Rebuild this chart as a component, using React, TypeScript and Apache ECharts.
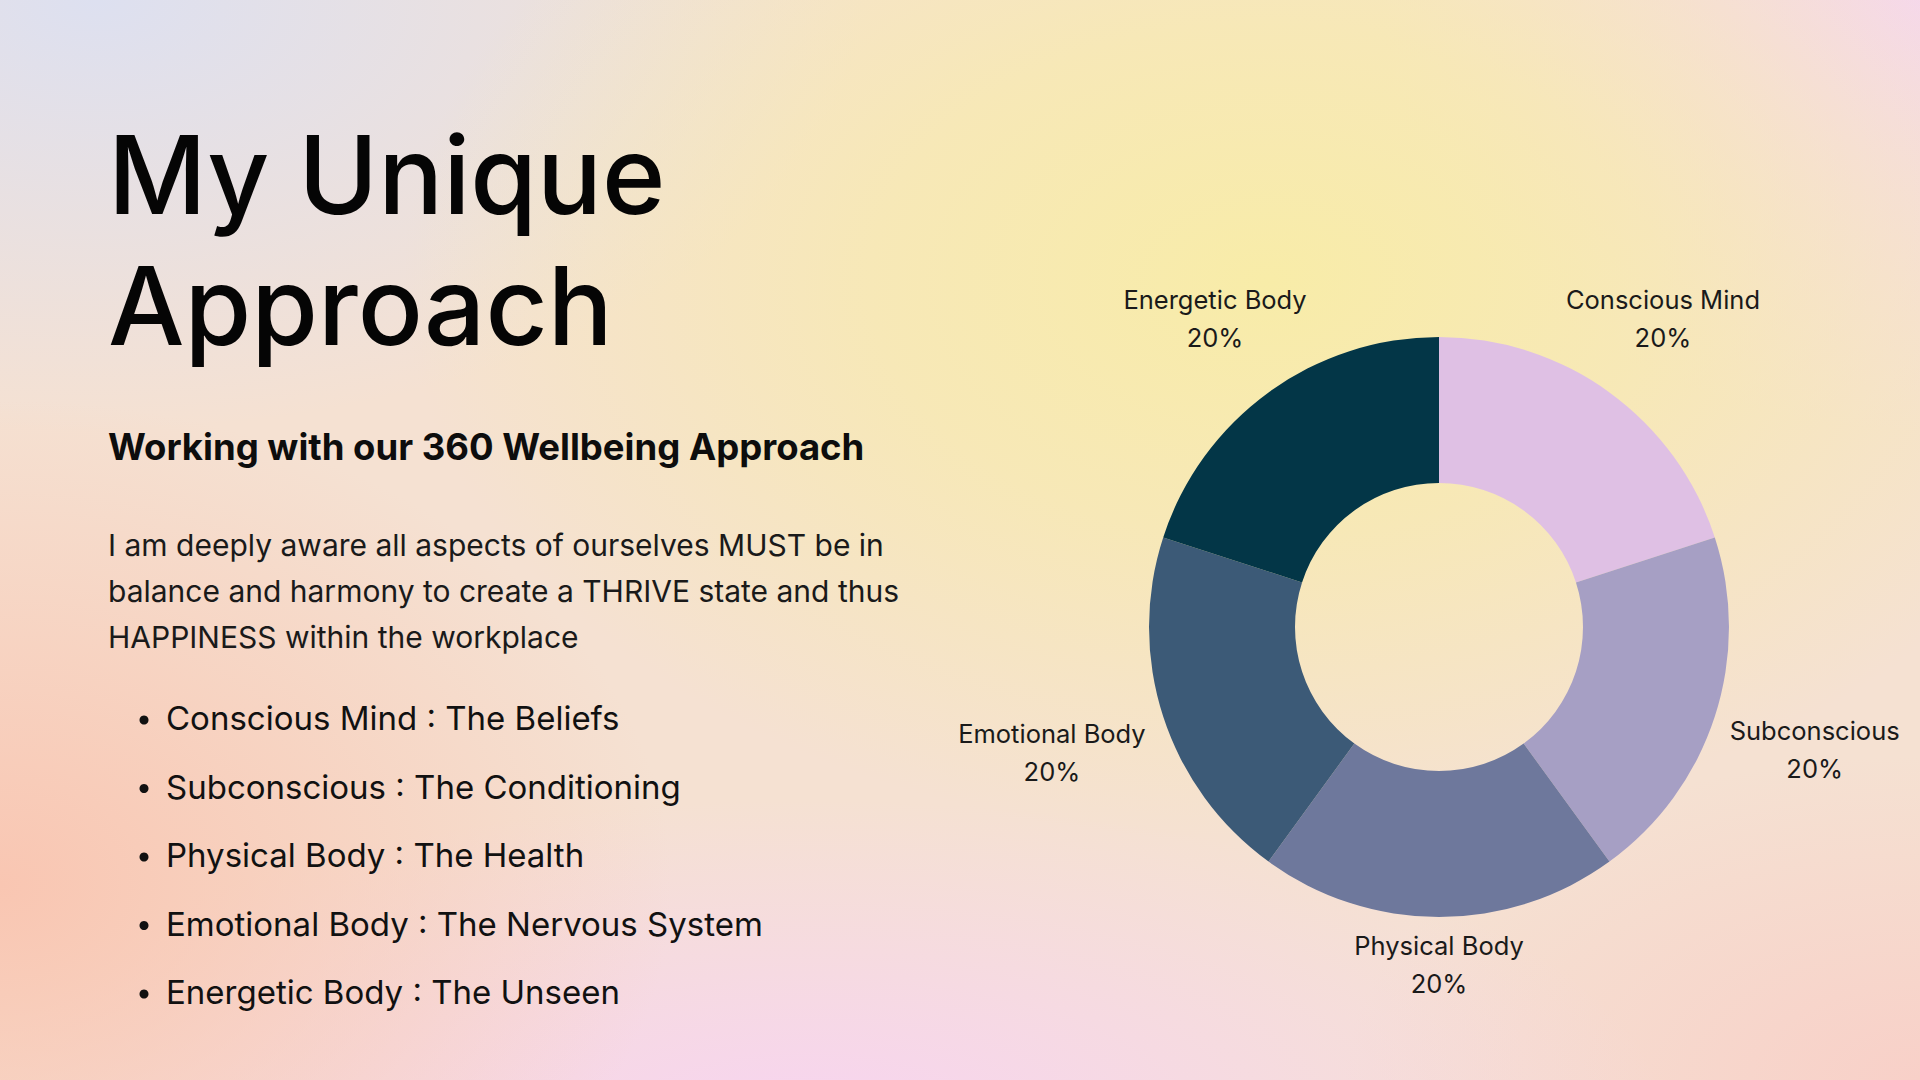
import React, { useEffect, useRef } from "react";
import * as echarts from "echarts";

const categories = ["Conscious Mind", "Subconscious", "Physical Body", "Emotional Body", "Energetic Body"];
const values = [20, 20, 20, 20, 20];
const sliceColors = ["#dfc0e4", "#a69fc4", "#6e789c", "#3c5a77", "#033647"];
// distance from the centre to each label's middle (px)
const labelRadius = [378, 392, 334, 404, 378];

const titleLines = ["My Unique", "Approach"];
const subtitle = "Working with our 360 Wellbeing Approach";
const paragraphLines = [
  "I am deeply aware all aspects of ourselves MUST be in",
  "balance and harmony to create a THRIVE state and thus",
  "HAPPINESS within the workplace",
];
const bulletItems = [
  "Conscious Mind : The Beliefs",
  "Subconscious : The Conditioning",
  "Physical Body : The Health",
  "Emotional Body : The Nervous System",
  "Energetic Body : The Unseen",
];

const FONT = "Inter, 'Noto Sans', sans-serif";
const CENTER = [1439, 627];

export default function App() {
  const ref = useRef<HTMLDivElement>(null);

  useEffect(() => {
    document.body.style.margin = "0";
    if (!ref.current) return;
    const chart = echarts.init(ref.current, undefined, { renderer: "svg" });

    const elements: any[] = [];
    const titleY = [174, 305];
    titleLines.forEach((t, i) => {
      elements.push({
        type: "text",
        x: 108,
        y: titleY[i],
        style: {
          text: t,
          fill: "#050505",
          fontFamily: FONT,
          fontSize: 108,
          fontWeight: 500,
          align: "left",
          verticalAlign: "middle",
        },
      });
    });
    elements.push({
      type: "text",
      x: 108,
      y: 447,
      style: {
        text: subtitle,
        fill: "#0d0d0d",
        fontFamily: FONT,
        fontSize: 36.5,
        fontWeight: 700,
        align: "left",
        verticalAlign: "middle",
      },
    });
    paragraphLines.forEach((t, i) => {
      elements.push({
        type: "text",
        x: 108,
        y: 545 + i * 46,
        style: {
          text: t,
          fill: "#1a1a1a",
          fontFamily: FONT,
          fontSize: 30,
          fontWeight: 400,
          align: "left",
          verticalAlign: "middle",
        },
      });
    });
    bulletItems.forEach((t, i) => {
      const y = 718 + i * 68.5;
      elements.push({
        type: "circle",
        shape: { cx: 144, cy: y + 2, r: 4.5 },
        style: { fill: "#111" },
      });
      elements.push({
        type: "text",
        x: 166,
        y,
        style: {
          text: t,
          fill: "#111",
          fontFamily: FONT,
          fontSize: 33,
          fontWeight: 400,
          align: "left",
          verticalAlign: "middle",
        },
      });
    });

    const pieData = categories.map((name, i) => ({
      name,
      value: values[i],
      itemStyle: { color: sliceColors[i] },
    }));

    // one transparent ring per label so each label sits at its own distance
    const labelSeries = categories.map((_, k) => ({
      type: "pie",
      center: CENTER,
      radius: [labelRadius[k] - 10, labelRadius[k] + 10],
      startAngle: 90,
      clockwise: true,
      silent: true,
      itemStyle: { color: "rgba(0,0,0,0)" },
      labelLine: { show: false },
      label: {
        show: true,
        position: "inside",
        formatter: "{b}\n{c}%",
        color: "#1a1a1a",
        fontFamily: FONT,
        fontSize: 25.5,
        lineHeight: 38,
        align: "center",
      },
      data: categories.map((name, i) => ({
        name,
        value: values[i],
        label: { show: i === k },
      })),
    }));

    chart.setOption({
      animation: false,
      backgroundColor: "transparent",
      tooltip: { show: false },
      graphic: { elements },
      series: [
        {
          type: "pie",
          center: CENTER,
          radius: [144, 290],
          startAngle: 90,
          clockwise: true,
          silent: true,
          label: { show: false },
          labelLine: { show: false },
          itemStyle: { borderWidth: 0 },
          data: pieData,
        },
        ...labelSeries,
      ],
    });

    return () => chart.dispose();
  }, []);

  const bg = [
    "radial-gradient(ellipse 45% 52% at 66% 26%, rgba(248,236,168,1) 0%, rgba(248,236,168,0.65) 45%, rgba(248,236,168,0) 100%)",
    "radial-gradient(ellipse 35% 45% at 0% 82%, rgba(249,198,178,1) 0%, rgba(249,198,178,0) 100%)",
    "radial-gradient(ellipse 28% 40% at 100% 0%, rgba(245,214,242,1) 0%, rgba(245,214,242,0) 100%)",
    "radial-gradient(ellipse 45% 30% at 42% 104%, rgba(247,212,240,1) 0%, rgba(247,212,240,0) 100%)",
    "radial-gradient(ellipse 30% 30% at 100% 100%, rgba(248,208,200,1) 0%, rgba(248,208,200,0) 100%)",
    "radial-gradient(ellipse 40% 40% at 5% 0%, rgba(221,224,240,1) 0%, rgba(221,224,240,0) 100%)",
    "linear-gradient(#f5e1d2, #f5e1d2)",
  ].join(",");

  return (
    <div
      ref={ref}
      style={{ width: 1920, height: 1080, background: bg, overflow: "hidden" }}
    />
  );
}
